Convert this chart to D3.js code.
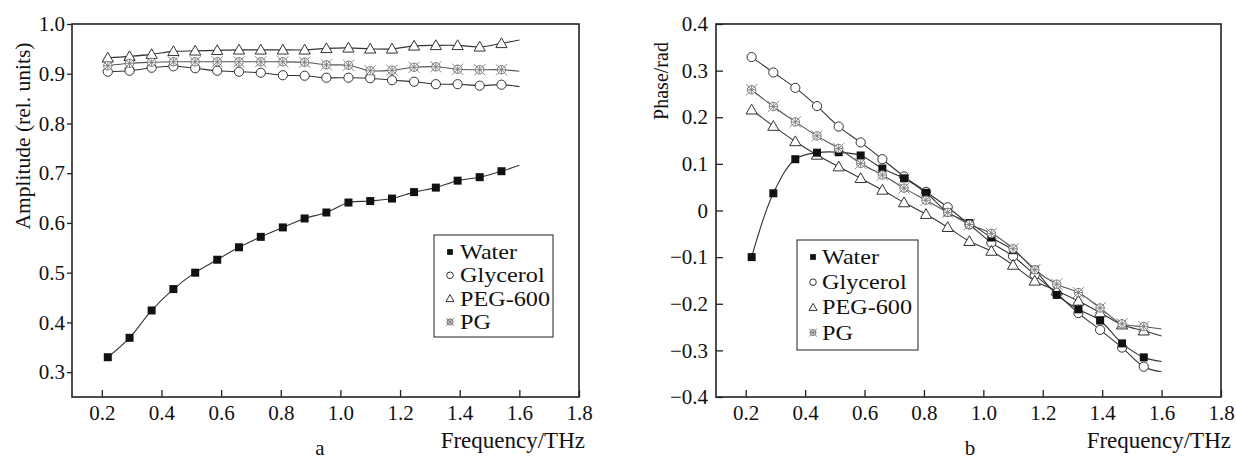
<!DOCTYPE html>
<html>
<head>
<meta charset="utf-8">
<script src="https://cdn.jsdelivr.net/npm/d3@7"></script>
<style>
  html, body { margin: 0; padding: 0; background: #fff; }
  svg { display: block; }
  svg text { font-family: "Liberation Serif", "Times New Roman", Times, "DejaVu Serif", serif !important; }
</style>
</head>
<body>
<svg id="chart" width="1236" height="459"></svg>
<script>
// Measurement frequencies (THz) shared by every series
const freq = [0.22, 0.293, 0.367, 0.44, 0.513, 0.587, 0.66, 0.733, 0.807, 0.88,
              0.953, 1.027, 1.10, 1.173, 1.247, 1.32, 1.393, 1.467, 1.54];
// Fitted curves continue past the last measured point up to this frequency
const curveEndFreq = 1.6;

const seriesNames = ["Water", "Glycerol", "PEG-600", "PG"];

// Panel a: transmitted amplitude (rel. units)
const ampWater    = [0.330, 0.369, 0.424, 0.467, 0.500, 0.526, 0.551, 0.572, 0.591, 0.609,
                     0.621, 0.641, 0.644, 0.649, 0.662, 0.671, 0.685, 0.692, 0.704];
const ampGlycerol = [0.904, 0.906, 0.912, 0.915, 0.911, 0.906, 0.904, 0.902, 0.897, 0.896,
                     0.892, 0.892, 0.891, 0.887, 0.884, 0.879, 0.879, 0.876, 0.878];
const ampPEG      = [0.932, 0.935, 0.939, 0.945, 0.946, 0.947, 0.948, 0.948, 0.948, 0.948,
                     0.951, 0.952, 0.950, 0.950, 0.956, 0.957, 0.957, 0.954, 0.961];
const ampPG       = [0.916, 0.921, 0.923, 0.924, 0.924, 0.924, 0.924, 0.924, 0.924, 0.923,
                     0.918, 0.917, 0.906, 0.907, 0.913, 0.914, 0.909, 0.908, 0.908];
const ampCurveEnd = [0.716, 0.874, 0.968, 0.905];

// Panel b: phase (rad)
const phWater    = [-0.100, 0.037, 0.110, 0.124, 0.125, 0.118, 0.090, 0.069, 0.038, -0.004,
                    -0.027, -0.058, -0.085, -0.127, -0.181, -0.212, -0.236, -0.285, -0.315];
const phGlycerol = [0.329, 0.296, 0.263, 0.224, 0.180, 0.146, 0.110, 0.073, 0.040, 0.007,
                    -0.030, -0.069, -0.098, -0.138, -0.178, -0.220, -0.256, -0.294, -0.335];
const phPEG      = [0.216, 0.181, 0.148, 0.119, 0.094, 0.069, 0.044, 0.017, -0.008, -0.036,
                    -0.066, -0.087, -0.117, -0.151, -0.172, -0.194, -0.219, -0.245, -0.258];
const phPG       = [0.259, 0.223, 0.190, 0.160, 0.133, 0.101, 0.076, 0.048, 0.022, -0.004,
                    -0.030, -0.049, -0.082, -0.127, -0.158, -0.176, -0.209, -0.243, -0.249];
const phCurveEnd = [-0.324, -0.346, -0.269, -0.254];

// Tick values and labels
const freqTicks = [0.2, 0.4, 0.6, 0.8, 1.0, 1.2, 1.4, 1.6, 1.8];
const freqTickLabels = ["0.2", "0.4", "0.6", "0.8", "1.0", "1.2", "1.4", "1.6", "1.8"];
const ampTicks = [0.3, 0.4, 0.5, 0.6, 0.7, 0.8, 0.9, 1.0];
const ampTickLabels = ["0.3", "0.4", "0.5", "0.6", "0.7", "0.8", "0.9", "1.0"];
const phTicks = [-0.4, -0.3, -0.2, -0.1, 0, 0.1, 0.2, 0.3, 0.4];
const phTickLabels = ["\u22120.4", "\u22120.3", "\u22120.2", "\u22120.1", "0", "0.1", "0.2", "0.3", "0.4"];

const SERIF = "'Liberation Serif', 'Times New Roman', Times, 'DejaVu Serif', serif";
const svg = d3.select("#chart").attr("font-family", SERIF);
const INK = "#222";
const LINE = "#333";
const PG_GREY = "#7a7a7a";

// Marker painters: draw one symbol centred at (0,0) inside group g, size factor s
const markers = {
  "Water": (g, s) => g.append("rect")
      .attr("x", -4 * s).attr("y", -4 * s).attr("width", 8 * s).attr("height", 8 * s)
      .attr("fill", "#111"),
  "Glycerol": (g, s) => g.append("circle")
      .attr("r", 4.6 * s).attr("fill", "#fff").attr("stroke", LINE).attr("stroke-width", 1),
  "PEG-600": (g, s) => g.append("path")
      .attr("d", `M0,${-5.6 * s} L${5.6 * s},${4.2 * s} L${-5.6 * s},${4.2 * s} Z`)
      .attr("fill", "#fff").attr("stroke", LINE).attr("stroke-width", 1),
  "PG": (g, s) => {
    g.append("circle").attr("r", 4.2 * s).attr("fill", "#fff")
      .attr("stroke", PG_GREY).attr("stroke-width", 1);
    const k = 5.6 * s;
    g.append("path")
      .attr("d", `M${-k},${-k} L${k},${k} M${-k},${k} L${k},${-k} M${-k * 0.75},0 L${k * 0.75},0 M0,${-k * 0.75} L0,${k * 0.75}`)
      .attr("stroke", PG_GREY).attr("stroke-width", 0.9).attr("fill", "none");
  }
};

function styleText(sel, size) {
  return sel.attr("font-family", SERIF).style("font-family", SERIF)
    .attr("font-size", size).attr("fill", "#111");
}

function drawPanel(cfg) {
  const { left, right, top, bottom } = cfg.frame;
  const x = d3.scaleLinear().domain([0.1, 1.8]).range([left, right]);
  const y = d3.scaleLinear().domain(cfg.yDomain).range([bottom, top]);
  const g = svg.append("g");

  // Curves (drawn under the markers)
  const line = d3.line()
    .x(d => x(d[0])).y(d => y(d[1]))
    .curve(d3.curveCatmullRom.alpha(0.5));
  cfg.series.forEach((vals, i) => {
    const pts = freq.map((f, j) => [f, vals[j]]);
    pts.push([curveEndFreq, cfg.curveEnd[i]]);
    g.append("path").datum(pts)
      .attr("d", line).attr("fill", "none")
      .attr("stroke", seriesNames[i] === "PG" ? "#555" : LINE)
      .attr("stroke-width", 1.1);
  });

  // Markers, painted in a fixed stacking order
  cfg.drawOrder.forEach(i => {
    const name = seriesNames[i];
    freq.forEach((f, j) => {
      const mg = g.append("g").attr("transform", `translate(${x(f)},${y(cfg.series[i][j])})`);
      markers[name](mg, 1);
    });
  });

  // Bottom axis with inward ticks
  const xAxis = d3.axisBottom(x).tickValues(freqTicks)
    .tickFormat((d, i) => freqTickLabels[i]).tickSizeInner(-7).tickSizeOuter(0).tickPadding(8);
  const xa = g.append("g").attr("transform", `translate(0,${bottom})`).call(xAxis)
    .attr("font-family", SERIF);
  xa.select(".domain").remove();
  xa.selectAll(".tick line").attr("stroke", INK).attr("stroke-width", 1.3);
  styleText(xa.selectAll(".tick text"), 21);

  // Left axis
  const yAxis = d3.axisLeft(y).tickValues(cfg.yTicks)
    .tickFormat((d, i) => cfg.yTickLabels[i]).tickSizeInner(cfg.yTickSize).tickSizeOuter(0)
    .tickPadding(cfg.yTickPadding);
  const ya = g.append("g").attr("transform", `translate(${left},0)`).call(yAxis)
    .attr("font-family", SERIF);
  ya.select(".domain").remove();
  ya.selectAll(".tick line").attr("stroke", INK).attr("stroke-width", 1.3);
  styleText(ya.selectAll(".tick text"), 21);

  // Plot frame
  g.append("rect")
    .attr("x", left).attr("y", top).attr("width", right - left).attr("height", bottom - top)
    .attr("fill", "none").attr("stroke", INK).attr("stroke-width", 1.6);

  // Axis titles and panel letter
  styleText(g.append("text"), 23).attr("x", cfg.xTitleEnd).attr("y", 448)
    .attr("text-anchor", "end").text("Frequency/THz");
  styleText(g.append("text"), cfg.yTitle.size)
    .attr("transform", `translate(${cfg.yTitle.x},${cfg.yTitle.y}) rotate(-90)`)
    .attr("text-anchor", "middle").text(cfg.yTitle.text);
  styleText(g.append("text"), 21).attr("x", cfg.letter.x).attr("y", 455)
    .attr("text-anchor", "middle").text(cfg.letter.text);

  // Legend (labels set in a slightly wide face)
  const L = cfg.legend;
  g.append("rect").attr("x", L.x).attr("y", L.y).attr("width", L.w).attr("height", L.h)
    .attr("fill", "#fff").attr("stroke", "#333").attr("stroke-width", 1.1);
  seriesNames.forEach((name, i) => {
    const base = L.firstBaseline + i * L.step;
    const mg = g.append("g").attr("transform", `translate(${L.markerX},${base - 7})`);
    markers[name](mg, 0.72);
    styleText(g.append("text"), L.fontSize)
      .attr("transform", `translate(${L.textX},${base}) scale(1.1,1)`)
      .text(name);
  });
}

drawPanel({
  frame: { left: 72, right: 579, top: 24, bottom: 397 },
  yDomain: [0.25, 1.0],
  series: [ampWater, ampGlycerol, ampPEG, ampPG],
  curveEnd: ampCurveEnd,
  drawOrder: [1, 2, 3, 0],
  yTicks: ampTicks, yTickLabels: ampTickLabels,
  yTickSize: 5, yTickPadding: 2,
  xTitleEnd: 585,
  yTitle: { x: 30, y: 136, size: 21.5, text: "Amplitude (rel. units)" },
  letter: { x: 320, text: "a" },
  legend: { x: 434, y: 235, w: 119, h: 102, markerX: 450, textX: 460,
            firstBaseline: 259, step: 23.3, fontSize: 22 }
});

drawPanel({
  frame: { left: 716, right: 1221, top: 24, bottom: 397 },
  yDomain: [-0.4, 0.4],
  series: [phWater, phGlycerol, phPEG, phPG],
  curveEnd: phCurveEnd,
  drawOrder: [1, 2, 0, 3],
  yTicks: phTicks, yTickLabels: phTickLabels,
  yTickSize: -7, yTickPadding: 8,
  xTitleEnd: 1231,
  yTitle: { x: 668, y: 81, size: 20, text: "Phase/rad" },
  letter: { x: 970, text: "b" },
  legend: { x: 797, y: 240, w: 121, h: 110, markerX: 813, textX: 822,
            firstBaseline: 264, step: 25.2, fontSize: 22 }
});
</script>
</body>
</html>
